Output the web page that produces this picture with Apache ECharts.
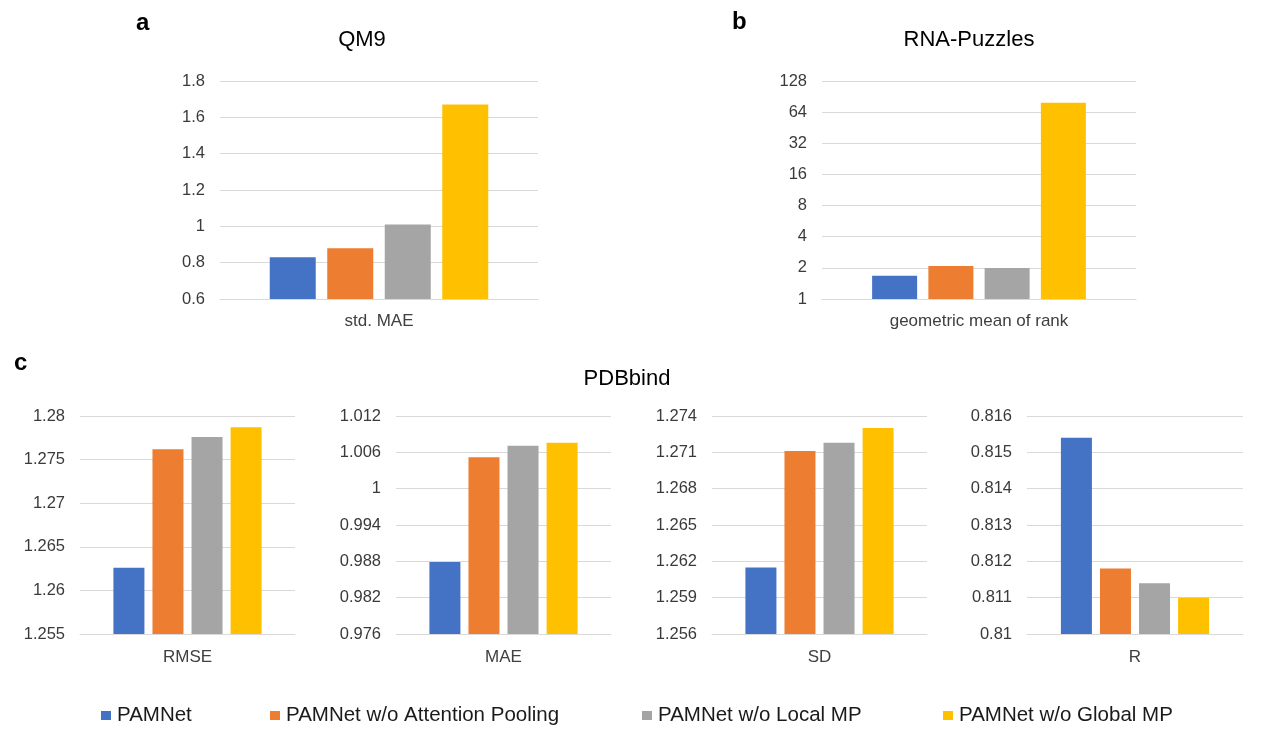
<!DOCTYPE html>
<html>
<head>
<meta charset="utf-8">
<script src="https://cdn.jsdelivr.net/npm/echarts@6/dist/echarts.min.js"></script>
<style>
html,body{margin:0;padding:0;background:#fff;}
#main{width:1263px;height:729px;}
</style>
</head>
<body>
<div id="main"></div>
<script>
// ---- data ----
const seriesNames = ['PAMNet', 'PAMNet w/o Attention Pooling', 'PAMNet w/o Local MP', 'PAMNet w/o Global MP'];
const colors = ['#4472C4', '#ED7D31', '#A5A5A5', '#FFC000'];

const qm9Category = ['std. MAE'];
const qm9Values = [0.83, 0.88, 1.01, 1.67];
const qm9Ticks = [0.6, 0.8, 1, 1.2, 1.4, 1.6, 1.8];

const rnaCategory = ['geometric mean of rank'];
const rnaValues = [1.68, 2.08, 1.99, 79];
const rnaTicks = [1, 2, 4, 8, 16, 32, 64, 128];

const rmseCategory = ['RMSE'];
const rmseValues = [1.2626, 1.2762, 1.2776, 1.2787];
const rmseTicks = [1.255, 1.26, 1.265, 1.27, 1.275, 1.28];

const maeCategory = ['MAE'];
const maeValues = [0.9879, 1.0052, 1.0071, 1.0076];
const maeTicks = [0.976, 0.982, 0.988, 0.994, 1, 1.006, 1.012];

const sdCategory = ['SD'];
const sdValues = [1.2615, 1.2711, 1.2718, 1.2730];
const sdTicks = [1.256, 1.259, 1.262, 1.265, 1.268, 1.271, 1.274];

const rCategory = ['R'];
const rValues = [0.8154, 0.8118, 0.8114, 0.8110];
const rTicks = [0.81, 0.811, 0.812, 0.813, 0.814, 0.815, 0.816];

// ---- layout ----
const FONT = "'Liberation Sans', Arial, sans-serif";
const panels = [
  {cat: qm9Category, vals: qm9Values, ticks: qm9Ticks, grid: {left: 220, top: 81, width: 318, height: 218}, bw: 46, gap: '25%', m: 14},
  {cat: rnaCategory, vals: rnaValues, ticks: rnaTicks, grid: {left: 822, top: 81, width: 314, height: 218}, bw: 45, gap: '25%', log: true, m: 14},
  {cat: rmseCategory, vals: rmseValues, ticks: rmseTicks, grid: {left: 80, top: 416, width: 215, height: 218}, bw: 31, gap: '26%', m: 15},
  {cat: maeCategory, vals: maeValues, ticks: maeTicks, grid: {left: 396, top: 416, width: 215, height: 218}, bw: 31, gap: '26%', m: 15},
  {cat: sdCategory, vals: sdValues, ticks: sdTicks, grid: {left: 712, top: 416, width: 215, height: 218}, bw: 31, gap: '26%', m: 15},
  {cat: rCategory, vals: rValues, ticks: rTicks, grid: {left: 1027, top: 416, width: 216, height: 218}, bw: 31, gap: '26%', m: 15}
];

const grids = [], xAxes = [], yAxes = [], series = [];
panels.forEach((p, gi) => {
  grids.push(Object.assign({containLabel: false}, p.grid));
  xAxes.push({
    type: 'category', gridIndex: gi, data: p.cat,
    axisTick: {show: false},
    axisLine: {show: true, lineStyle: {color: '#D9D9D9', width: 1}},
    axisLabel: {color: '#404040', fontSize: 17, fontFamily: FONT, margin: p.m}
  });
  const lo = p.ticks[0], hi = p.ticks[p.ticks.length - 1];
  const y = {
    gridIndex: gi, min: lo, max: hi,
    axisLine: {show: false}, axisTick: {show: false},
    splitLine: {show: true, lineStyle: {color: '#D9D9D9', width: 1}},
    axisLabel: {color: '#3a3a3a', fontSize: 16.5, fontFamily: FONT, margin: 15,
      formatter: v => String(parseFloat(Number(v).toFixed(4)))}
  };
  if (p.log) {
    y.type = 'log'; y.logBase = 2; y.splitNumber = 7;
  } else {
    y.type = 'value';
    y.axisTick.customValues = p.ticks;
    y.axisLabel.customValues = p.ticks;
  }
  yAxes.push(y);
  p.vals.forEach((v, si) => {
    series.push({
      type: 'bar', name: seriesNames[si], xAxisIndex: gi, yAxisIndex: gi,
      data: [v], barWidth: p.bw, barGap: p.gap,
      itemStyle: {color: colors[si]}, silent: true, animation: false
    });
  });
});

const legendLefts = [101, 270, 642, 943];
const legends = seriesNames.map((n, i) => ({
  data: [{name: n, icon: 'rect'}],
  left: legendLefts[i], top: 705, padding: 0,
  itemWidth: 10, itemHeight: 9, itemGap: 0,
  selectedMode: false,
  textStyle: {fontSize: 20.5, fontFamily: FONT, color: '#1a1a1a', padding: [0, 0, 0, 1]}
}));

function txt(text, x, y, size, weight, align) {
  return {type: 'text', x: x, y: y, silent: true,
    style: {text: text, fill: '#000', fontSize: size, fontWeight: weight || 'normal', fontFamily: FONT,
      align: align || 'center', verticalAlign: 'middle'}};
}

const chart = echarts.init(document.getElementById('main'), null, {renderer: 'canvas'});
chart.setOption({
  animation: false,
  backgroundColor: '#fff',
  grid: grids, xAxis: xAxes, yAxis: yAxes, series: series,
  legend: legends,
  graphic: [
    txt('a', 136, 23, 24, 'bold', 'left'),
    txt('b', 732, 22, 24, 'bold', 'left'),
    txt('c', 14, 363, 24, 'bold', 'left'),
    txt('QM9', 362, 40, 22),
    txt('RNA-Puzzles', 969, 40, 22),
    txt('PDBbind', 627, 379, 22)
  ]
});
</script>
</body>
</html>
